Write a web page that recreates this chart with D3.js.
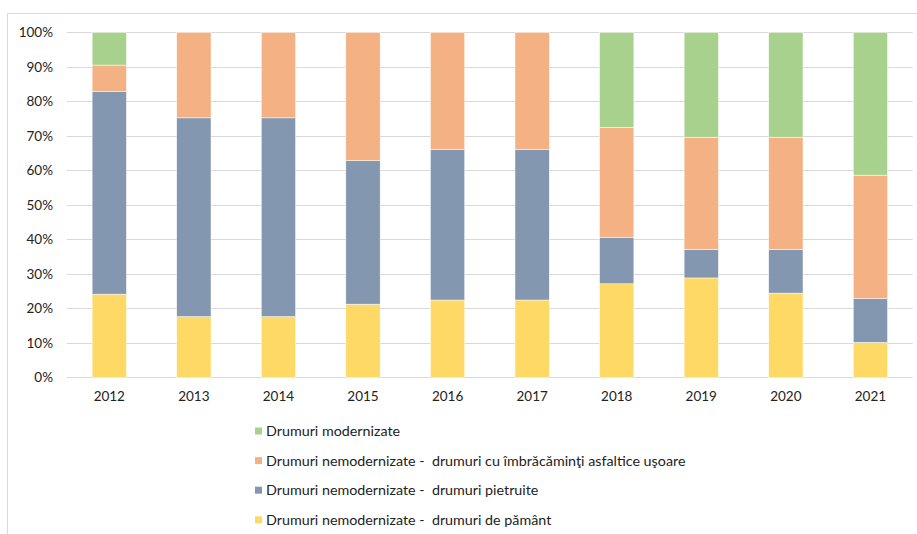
<!DOCTYPE html>
<html><head><meta charset="utf-8">
<script src="https://cdn.jsdelivr.net/npm/d3@7"></script>
<style>body{margin:0;background:#fff}svg{display:block}text{font-family:Lato,"Open Sans",sans-serif;fill:#222}</style>
</head><body><svg id="c" width="917" height="534"></svg>
<script>
const years = ["2012","2013","2014","2015","2016","2017","2018","2019","2020","2021"];
const seriesNames = [
  "Drumuri nemodernizate -  drumuri de pământ",
  "Drumuri nemodernizate -  drumuri pietruite",
  "Drumuri nemodernizate -  drumuri cu îmbrăcăminţi asfaltice uşoare",
  "Drumuri modernizate"
];
const pamant     = [24.1, 17.6, 17.6, 21.2, 22.4, 22.4, 27.1, 28.8, 24.4, 10.1];
const pietruite  = [58.7, 57.6, 57.6, 41.6, 43.6, 43.6, 13.5,  8.3, 12.7, 12.7];
const asfaltice  = [ 7.7, 24.8, 24.8, 37.2, 34.0, 34.0, 31.8, 32.5, 32.5, 35.8];
const modernizate= [ 9.5,  0.0,  0.0,  0.0,  0.0,  0.0, 27.6, 30.4, 30.4, 41.4];
const colors = ["#ffd966", "#8497b0", "#f4b183", "#a9d18e"];
const yTicks = [0,10,20,30,40,50,60,70,80,90,100];
const legendOrder = [3,2,1,0];

const svg = d3.select("#c");
const rows = years.map((y,i)=>({year:y, s0:pamant[i], s1:pietruite[i], s2:asfaltice[i], s3:modernizate[i]}));
const keys = ["s0","s1","s2","s3"];
const stacked = d3.stack().keys(keys)(rows);

const x = d3.scaleBand().domain(years).range([67, 912.7]).paddingInner(0.594).paddingOuter(0.297);
const y = d3.scaleLinear().domain([0,100]).range([377.3, 32.3]);

// outer border (top and left)
svg.append("line").attr("x1",7.5).attr("x2",917).attr("y1",13.5).attr("y2",13.5).attr("stroke","#d9d9d9");
svg.append("line").attr("x1",7.5).attr("x2",7.5).attr("y1",13.5).attr("y2",534).attr("stroke","#d9d9d9");

// gridlines
svg.append("g").selectAll("line").data(yTicks).join("line")
  .attr("x1",67).attr("x2",912.7)
  .attr("y1",d=>Math.round(y(d))+0.5).attr("y2",d=>Math.round(y(d))+0.5)
  .attr("stroke","#d9d9d9").attr("stroke-width",1);

// y axis labels
const yAxis = d3.axisLeft(y).tickValues(yTicks).tickFormat(d=>d+"%").tickSize(0).tickPadding(0);
const gy = svg.append("g").attr("transform","translate(53,0)").call(yAxis);
gy.select(".domain").remove();
gy.selectAll("text").attr("font-size",13.5).attr("font-family","Lato").attr("fill","#222");

// bars
svg.append("g").selectAll("g").data(stacked).join("g")
  .attr("fill",(d,i)=>colors[i])
  .selectAll("rect").data(d=>d).join("rect")
  .attr("x",d=>x(d.data.year))
  .attr("width",x.bandwidth())
  .attr("y",d=>y(d[1]))
  .attr("height",d=>Math.max(0,y(d[0])-y(d[1])))
  .attr("stroke","#fff").attr("stroke-width",0.5);

// x axis
const xAxis = d3.axisBottom(x).tickSize(0).tickPadding(0);
const gx = svg.append("g").attr("transform","translate(0,396)").call(xAxis);
gx.select(".domain").remove();
gx.selectAll("text").attr("font-size",13.5).attr("font-family","Lato").attr("fill","#222").attr("dy","0.35em");

// legend
const lg = svg.append("g").selectAll("g").data(legendOrder).join("g")
  .attr("transform",(d,i)=>`translate(255,${431 + i*29.6})`);
lg.append("rect").attr("x",0).attr("y",-3.5).attr("width",7).attr("height",7).attr("fill",d=>colors[d]);
lg.append("text").attr("x",11).attr("y",0).attr("dy","0.35em").attr("font-size",14.3)
  .style("white-space","pre").attr("xml:space","preserve").text(d=>seriesNames[d]);
</script></body></html>
